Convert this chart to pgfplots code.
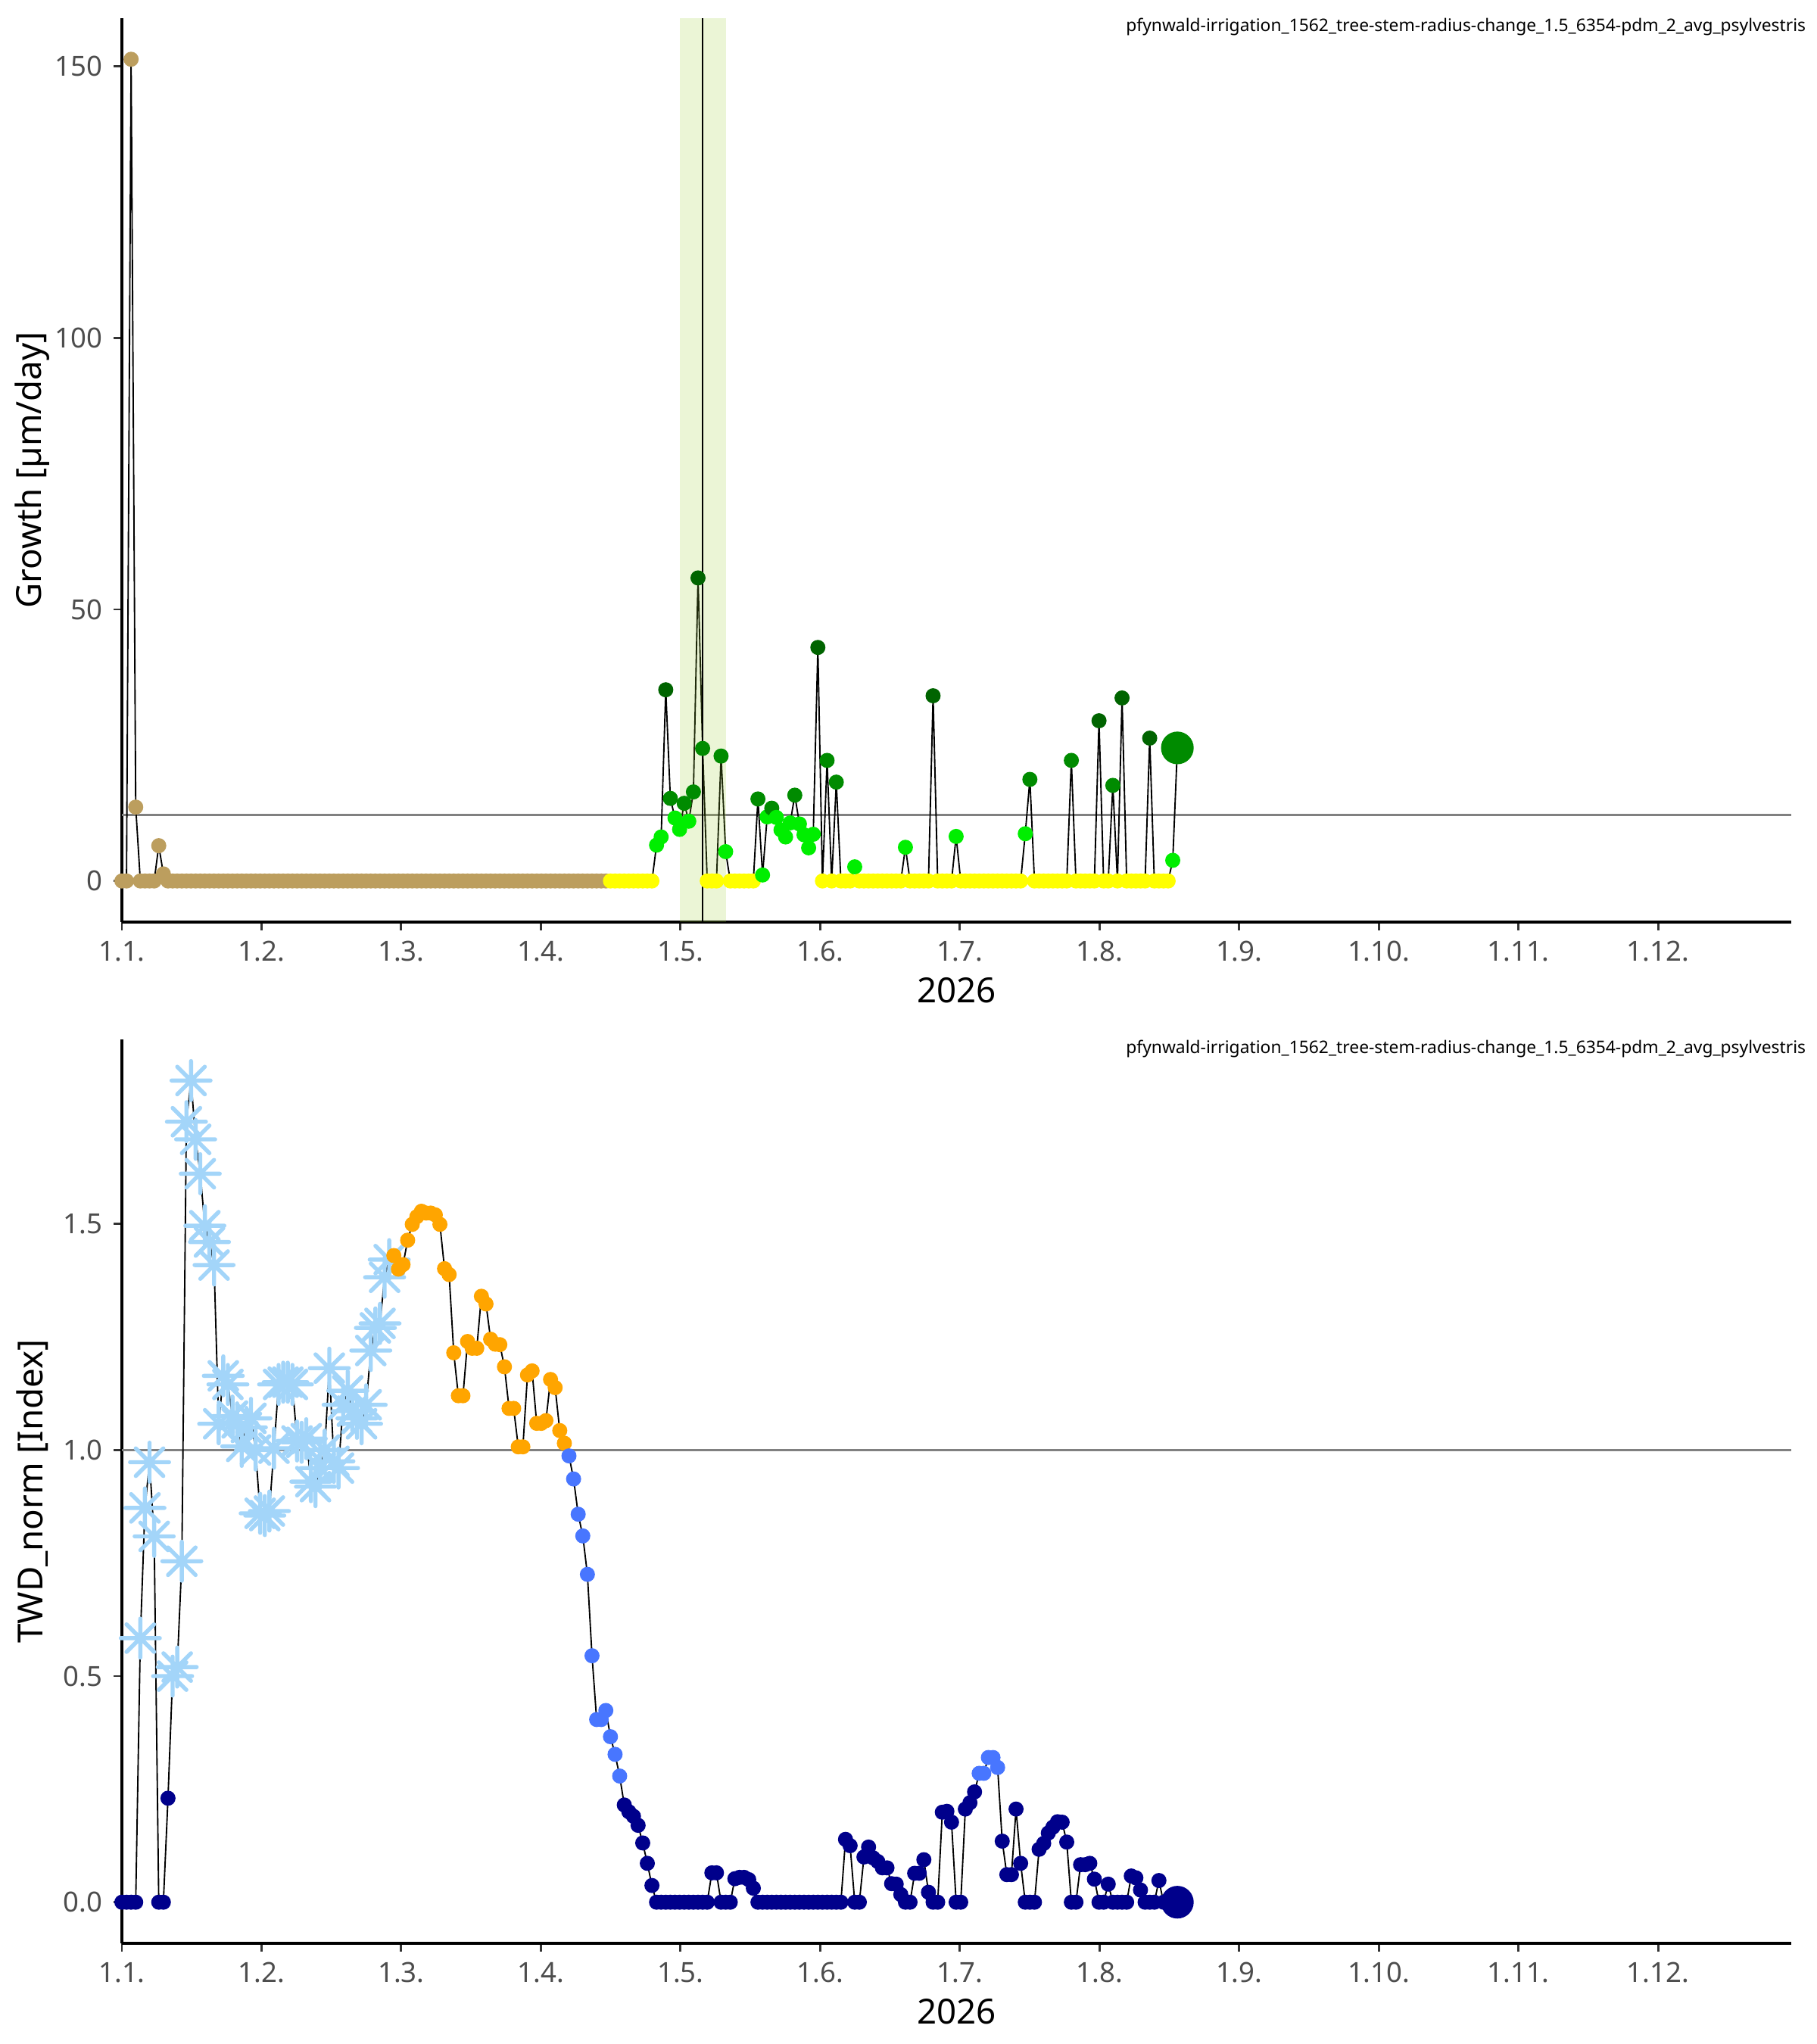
\documentclass[border=0pt]{standalone}
\usepackage{fontspec}
\setmainfont{Noto Sans}
\usepackage{pgfplots}
\pgfplotsset{compat=1.18}
\usepackage{pgfplotstable}

\definecolor{tanc}{HTML}{BC9E5E}
\definecolor{ylw}{HTML}{FFFF00}
\definecolor{lgr}{HTML}{00EE00}
\definecolor{mgr}{HTML}{008B00}
\definecolor{dgr}{HTML}{006400}
\definecolor{ygr}{HTML}{9ACD32}
\definecolor{starc}{HTML}{A3D5F9}
\definecolor{navyc}{HTML}{00008B}
\definecolor{orng}{HTML}{FFA500}
\definecolor{rblue}{HTML}{4876FF}
\definecolor{tickc}{HTML}{4D4D4D}
\definecolor{refl}{HTML}{808080}

\pgfdeclareplotmark{star8}{%
  \pgfpathmoveto{\pgfqpoint{-\pgfplotmarksize}{0pt}}%
  \pgfpathlineto{\pgfqpoint{\pgfplotmarksize}{0pt}}%
  \pgfpathmoveto{\pgfqpoint{0pt}{-\pgfplotmarksize}}%
  \pgfpathlineto{\pgfqpoint{0pt}{\pgfplotmarksize}}%
  \pgfpathmoveto{\pgfqpoint{-0.7071\pgfplotmarksize}{-0.7071\pgfplotmarksize}}%
  \pgfpathlineto{\pgfqpoint{0.7071\pgfplotmarksize}{0.7071\pgfplotmarksize}}%
  \pgfpathmoveto{\pgfqpoint{-0.7071\pgfplotmarksize}{0.7071\pgfplotmarksize}}%
  \pgfpathlineto{\pgfqpoint{0.7071\pgfplotmarksize}{-0.7071\pgfplotmarksize}}%
  \pgfusepathqstroke}

% growth (top panel): day index k, value v, colour class c
\pgfplotstableread[row sep=\\]{
k v c\\
0 0 T\\1 0 T\\2 151.3 T\\3 13.6 T\\4 0 T\\5 0 T\\6 0 T\\7 0 T\\8 6.5 T\\9 1.3 T\\
10 0 T\\11 0 T\\12 0 T\\13 0 T\\14 0 T\\15 0 T\\16 0 T\\17 0 T\\18 0 T\\19 0 T\\
20 0 T\\21 0 T\\22 0 T\\23 0 T\\24 0 T\\25 0 T\\26 0 T\\27 0 T\\28 0 T\\29 0 T\\
30 0 T\\31 0 T\\32 0 T\\33 0 T\\34 0 T\\35 0 T\\36 0 T\\37 0 T\\38 0 T\\39 0 T\\
40 0 T\\41 0 T\\42 0 T\\43 0 T\\44 0 T\\45 0 T\\46 0 T\\47 0 T\\48 0 T\\49 0 T\\
50 0 T\\51 0 T\\52 0 T\\53 0 T\\54 0 T\\55 0 T\\56 0 T\\57 0 T\\58 0 T\\59 0 T\\
60 0 T\\61 0 T\\62 0 T\\63 0 T\\64 0 T\\65 0 T\\66 0 T\\67 0 T\\68 0 T\\69 0 T\\
70 0 T\\71 0 T\\72 0 T\\73 0 T\\74 0 T\\75 0 T\\76 0 T\\77 0 T\\78 0 T\\79 0 T\\
80 0 T\\81 0 T\\82 0 T\\83 0 T\\84 0 T\\85 0 T\\86 0 T\\87 0 T\\88 0 T\\89 0 T\\
90 0 T\\91 0 T\\92 0 T\\93 0 T\\94 0 T\\95 0 T\\96 0 T\\97 0 T\\98 0 T\\99 0 T\\
100 0 T\\101 0 T\\102 0 T\\103 0 T\\104 0 T\\105 0 T\\106 0 Y\\107 0 Y\\108 0 Y\\109 0 Y\\
110 0 Y\\111 0 Y\\112 0 Y\\113 0 Y\\114 0 Y\\115 0 Y\\116 6.6 L\\117 8.1 L\\118 35.2 D\\119 15.2 M\\
120 11.6 L\\121 9.5 L\\122 14.3 M\\123 11.0 L\\124 16.4 M\\125 55.8 D\\126 24.4 M\\127 0 Y\\128 0 Y\\129 0 Y\\
130 23.0 M\\131 5.4 L\\132 0 Y\\133 0 Y\\134 0 Y\\135 0 Y\\136 0 Y\\137 0 Y\\138 15.1 M\\139 1.1 L\\
140 11.8 L\\141 13.4 M\\142 11.7 L\\143 9.4 L\\144 8.1 L\\145 10.7 L\\146 15.8 M\\147 10.5 L\\148 8.5 L\\149 6.1 L\\
150 8.6 L\\151 43.0 D\\152 0 Y\\153 22.2 M\\154 0 Y\\155 18.2 M\\156 0 Y\\157 0 Y\\158 0 Y\\159 2.6 L\\
160 0 Y\\161 0 Y\\162 0 Y\\163 0 Y\\164 0 Y\\165 0 Y\\166 0 Y\\167 0 Y\\168 0 Y\\169 0 Y\\
170 6.2 L\\171 0 Y\\172 0 Y\\173 0 Y\\174 0 Y\\175 0 Y\\176 34.1 D\\177 0 Y\\178 0 Y\\179 0 Y\\
180 0 Y\\181 8.2 L\\182 0 Y\\183 0 Y\\184 0 Y\\185 0 Y\\186 0 Y\\187 0 Y\\188 0 Y\\189 0 Y\\
190 0 Y\\191 0 Y\\192 0 Y\\193 0 Y\\194 0 Y\\195 0 Y\\196 8.7 L\\197 18.7 M\\198 0 Y\\199 0 Y\\
200 0 Y\\201 0 Y\\202 0 Y\\203 0 Y\\204 0 Y\\205 0 Y\\206 22.2 M\\207 0 Y\\208 0 Y\\209 0 Y\\
210 0 Y\\211 0 Y\\212 29.5 D\\213 0 Y\\214 0 Y\\215 17.6 M\\216 0 Y\\217 33.7 D\\218 0 Y\\219 0 Y\\
220 0 Y\\221 0 Y\\222 0 Y\\223 26.3 D\\224 0 Y\\225 0 Y\\226 0 Y\\227 0 Y\\228 3.8 L\\229 24.5 B\\
}\tabA

% TWD_norm (bottom panel)
\pgfplotstableread[row sep=\\]{
k v c\\
0 0 N\\1 0 N\\2 0 N\\3 0 N\\4 0.584 S\\5 0.872 S\\6 0.973 S\\7 0.809 S\\8 0 N\\9 0 N\\
10 0.23 N\\11 0.50 S\\12 0.52 S\\13 0.754 S\\14 1.726 S\\15 1.817 S\\16 1.687 S\\17 1.611 S\\18 1.496 S\\19 1.460 S\\
20 1.409 S\\21 1.058 S\\22 1.164 S\\23 1.145 S\\24 1.075 S\\25 1.06 S\\26 1.008 S\\27 1.05 S\\28 1.07 S\\29 1.00 S\\
30 0.86 S\\31 0.855 S\\32 0.865 S\\33 1.004 S\\34 1.145 S\\35 1.15 S\\36 1.15 S\\37 1.145 S\\38 1.02 S\\39 1.017 S\\
40 1.025 S\\41 0.93 S\\42 0.919 S\\43 0.96 S\\44 1.0 S\\45 1.181 S\\46 0.975 S\\47 0.96 S\\48 1.10 S\\49 1.131 S\\
50 1.086 S\\51 1.07 S\\52 1.058 S\\53 1.10 S\\54 1.22 S\\55 1.27 S\\56 1.28 S\\57 1.382 S\\58 1.421 S\\59 1.43 O\\
60 1.40 O\\61 1.41 O\\62 1.464 O\\63 1.499 O\\64 1.516 O\\65 1.528 O\\66 1.524 O\\67 1.524 O\\68 1.52 O\\69 1.499 O\\
70 1.401 O\\71 1.388 O\\72 1.215 O\\73 1.12 O\\74 1.12 O\\75 1.24 O\\76 1.225 O\\77 1.225 O\\78 1.34 O\\79 1.323 O\\
80 1.245 O\\81 1.234 O\\82 1.233 O\\83 1.184 O\\84 1.092 O\\85 1.092 O\\86 1.007 O\\87 1.007 O\\88 1.166 O\\89 1.175 O\\
90 1.059 O\\91 1.059 O\\92 1.065 O\\93 1.156 O\\94 1.138 O\\95 1.043 O\\96 1.015 O\\97 0.987 U\\98 0.936 U\\99 0.858 U\\
100 0.810 U\\101 0.725 U\\102 0.545 U\\103 0.404 U\\104 0.404 U\\105 0.424 U\\106 0.366 U\\107 0.327 U\\108 0.279 U\\109 0.215 N\\
110 0.20 N\\111 0.19 N\\112 0.17 N\\113 0.131 N\\114 0.086 N\\115 0.037 N\\116 0 N\\117 0 N\\118 0 N\\119 0 N\\
120 0 N\\121 0 N\\122 0 N\\123 0 N\\124 0 N\\125 0 N\\126 0 N\\127 0 N\\128 0.065 N\\129 0.065 N\\
130 0 N\\131 0 N\\132 0 N\\133 0.052 N\\134 0.055 N\\135 0.055 N\\136 0.05 N\\137 0.031 N\\138 0 N\\139 0 N\\
140 0 N\\141 0 N\\142 0 N\\143 0 N\\144 0 N\\145 0 N\\146 0 N\\147 0 N\\148 0 N\\149 0 N\\
150 0 N\\151 0 N\\152 0 N\\153 0 N\\154 0 N\\155 0 N\\156 0 N\\157 0.139 N\\158 0.125 N\\159 0 N\\
160 0 N\\161 0.10 N\\162 0.122 N\\163 0.098 N\\164 0.09 N\\165 0.076 N\\166 0.076 N\\167 0.041 N\\168 0.04 N\\169 0.017 N\\
170 0 N\\171 0 N\\172 0.064 N\\173 0.064 N\\174 0.094 N\\175 0.022 N\\176 0 N\\177 0 N\\178 0.199 N\\179 0.201 N\\
180 0.177 N\\181 0 N\\182 0 N\\183 0.206 N\\184 0.22 N\\185 0.244 N\\186 0.285 U\\187 0.285 U\\188 0.32 U\\189 0.32 U\\
190 0.298 U\\191 0.135 N\\192 0.061 N\\193 0.061 N\\194 0.206 N\\195 0.086 N\\196 0 N\\197 0 N\\198 0 N\\199 0.117 N\\
200 0.13 N\\201 0.153 N\\202 0.166 N\\203 0.178 N\\204 0.177 N\\205 0.133 N\\206 0 N\\207 0 N\\208 0.083 N\\209 0.083 N\\
210 0.086 N\\211 0.051 N\\212 0 N\\213 0 N\\214 0.04 N\\215 0 N\\216 0 N\\217 0 N\\218 0 N\\219 0.058 N\\
220 0.054 N\\221 0.027 N\\222 0 N\\223 0 N\\224 0 N\\225 0.048 N\\226 0 N\\227 0 N\\228 0 N\\229 0 B\\
}\tabB

\pgfplotsset{panel/.style={
  scale only axis, width=7.35in, height=3.98in,
  xmin=0, xmax=362.2,
  axis x line*=bottom, axis y line*=left,
  axis line style={-, line width=0.8pt, black},
  xtick={0,30.3,60.6,90.9,121.2,151.5,181.8,212.1,242.4,272.7,303,333.3},
  xticklabels={1.1.,1.2.,1.3.,1.4.,1.5.,1.6.,1.7.,1.8.,1.9.,1.10.,1.11.,1.12.},
  tick align=outside, major tick length=2.6pt,
  tick style={black!80, line width=0.7pt},
  tick label style={font=\fontsize{8.8}{10}\selectfont, text=tickc},
  xlabel={2026},
  xlabel style={font=\fontsize{11}{13}\selectfont, at={(axis description cs:0.5,-0.0754)}, anchor=center},
  ylabel style={font=\fontsize{11}{13}\selectfont, at={(axis description cs:-0.0535,0.5)}, anchor=center},
  clip=true,
}}

\begin{document}
\begin{tikzpicture}
\path[use as bounding box] (0,0) rectangle (8in,9in);

% ---------- top panel ----------
\begin{axis}[panel, at={(0.5367in,4.94in)}, anchor=south west,
  ymin=-7.565, ymax=158.87,
  ytick={0,50,100,150}, yticklabels={0,50,100,150},
  ylabel={Growth [µm/day]}]
\addplot[refl, line width=0.65pt, mark=none] coordinates {(0,12.2) (362.2,12.2)};
\addplot[black, line width=0.45pt, mark=none] table[x=k,y=v] {\tabA};
\addplot[scatter, only marks, mark size=2.2pt, scatter src=explicit symbolic,
  scatter/classes={
    T={mark=*, fill=tanc, draw=tanc},
    Y={mark=*, fill=ylw, draw=ylw},
    L={mark=*, fill=lgr, draw=lgr},
    M={mark=*, fill=mgr, draw=mgr},
    D={mark=*, fill=dgr, draw=dgr},
    B={mark=*, mark size=5pt, fill=mgr, draw=mgr}}]
  table[x=k,y=v,meta=c] {\tabA};
\addplot[draw=none, fill=ygr, fill opacity=0.2, mark=none]
  coordinates {(121,-7.565) (131,-7.565) (131,158.87) (121,158.87)} --cycle;
\addplot[black, line width=0.45pt, mark=none] coordinates {(126,-7.565) (126,158.87)};
\end{axis}

% ---------- bottom panel ----------
\begin{axis}[panel, at={(0.5367in,0.4433in)}, anchor=south west,
  ymin=-0.0909, ymax=1.908,
  ytick={0,0.5,1,1.5}, yticklabels={0.0,0.5,1.0,1.5},
  ylabel={TWD\_norm [Index]}]
\addplot[refl, line width=0.65pt, mark=none] coordinates {(0,1) (362.2,1)};
\addplot[black, line width=0.45pt, mark=none] table[x=k,y=v] {\tabB};
\addplot[scatter, only marks, mark size=2.2pt, scatter src=explicit symbolic,
  scatter/classes={
    N={mark=*, fill=navyc, draw=navyc},
    S={mark=star8, mark size=6.2pt, draw=starc, line width=1.3pt, line cap=round},
    O={mark=*, fill=orng, draw=orng},
    U={mark=*, fill=rblue, draw=rblue},
    B={mark=*, mark size=5pt, fill=navyc, draw=navyc}}]
  table[x=k,y=v,meta=c] {\tabB};
\end{axis}

\node[anchor=east, font=\fontsize{5.5}{6}\selectfont, inner sep=0pt] at (7.953in,8.883in)
  {pfynwald-irrigation\_1562\_tree-stem-radius-change\_1.5\_6354-pdm\_2\_avg\_psylvestris};
\node[anchor=east, font=\fontsize{5.5}{6}\selectfont, inner sep=0pt] at (7.953in,4.38in)
  {pfynwald-irrigation\_1562\_tree-stem-radius-change\_1.5\_6354-pdm\_2\_avg\_psylvestris};
\end{tikzpicture}
\end{document}
